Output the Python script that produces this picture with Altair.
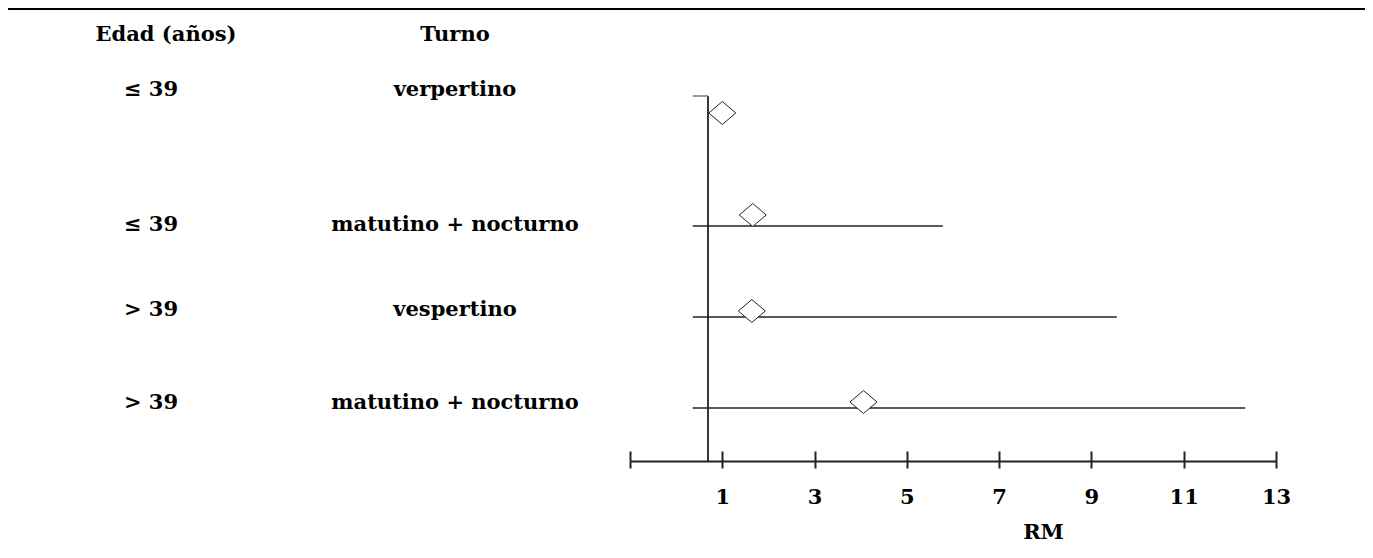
import altair as alt
import pandas as pd

# ---------------- data ----------------
edad = ["≤ 39", "≤ 39", "> 39", "> 39"]
turno = ["verpertino", "matutino + nocturno", "vespertino", "matutino + nocturno"]
fila = [1, 2, 3, 4]
rm = [1.0, 1.66, 1.64, 4.06]
ic_inf = [None, 0.36, 0.36, 0.36]
ic_sup = [None, 5.78, 9.55, 12.33]
referencia = 0.69
marcas_x = [-1, 1, 3, 5, 7, 9, 11, 13]
encabezados = ["Edad (años)", "Turno"]
titulo_x = "RM"

df = pd.DataFrame({"fila": fila, "edad": edad, "turno": turno, "rm": rm,
                   "lo": ic_inf, "hi": ic_sup})

# ---------------- style ----------------
FONT = "DejaVu Serif"
FS = 21
INK = "#222222"
DIAM_DY = {1: -22, 2: -11, 3: -6, 4: -6}   # diamond drawn just above its line
TEXT_DY = {1: -45, 2: -1, 3: -7, 4: -5}    # table text vertical nudges

xscale = alt.Scale(domain=[marcas_x[0], marcas_x[-1]], nice=False, zero=False)
yscale = alt.Scale(domain=[1, 4], range=[39, 312], nice=False, zero=False)

base = alt.Chart(df)
one = pd.DataFrame({"k": [0]})

# top border line
borde = alt.Chart(one).mark_rule(color="#000000", strokeWidth=2).encode(
    x=alt.value(-623), x2=alt.value(737), y=alt.value(-87))

# vertical reference line
ref = alt.Chart(one).mark_rule(color=INK, strokeWidth=1.8).encode(
    x=alt.XDatum(referencia, scale=xscale, axis=None))

# small cap at the top of the reference line
cap = alt.Chart(one).mark_rule(color="#777777", strokeWidth=1.5).encode(
    x=alt.XDatum(ic_inf[1], scale=xscale, axis=None),
    x2=alt.X2Datum(referencia),
    y=alt.value(0))

# confidence interval lines (carry the main x axis)
ic = base.transform_filter("isValid(datum.lo)").mark_rule(color=INK, strokeWidth=1.3).encode(
    x=alt.X("lo:Q", scale=xscale,
            axis=alt.Axis(values=marcas_x, orient="bottom", domain=True, domainColor=INK,
                          domainWidth=2, ticks=True, tickSize=7, tickWidth=2, tickColor=INK,
                          labelExpr="datum.value < 0 ? '' : datum.label",
                          labelFont=FONT, labelFontWeight="bold", labelFontSize=FS,
                          labelColor="#000000", labelBaseline="alphabetic", labelPadding=35,
                          labelFlush=False, labelOverlap=False,
                          grid=False, title=titulo_x, titleFont=FONT, titleFontWeight="bold",
                          titleFontSize=FS, titleColor="#000000", titleX=413, titleY=77,
                          titleAlign="center", titleBaseline="alphabetic")),
    x2="hi:Q",
    y=alt.Y("fila:Q", scale=yscale, axis=None))

layers = [borde, ref, cap, ic]

# diamonds, one layer per row (first one carries the upward tick marks)
for i, f in enumerate(fila):
    axis = None
    if i == 0:
        axis = alt.Axis(values=marcas_x, orient="top", offset=-365, domain=False,
                        ticks=True, tickSize=10, tickWidth=2, tickColor=INK,
                        labels=False, grid=False, title=None)
    d = base.transform_filter(alt.datum.fila == f).mark_point(
        shape="M -1 0 L 0 -0.85 L 1 0 L 0 0.85 Z", size=729, filled=True,
        fill="white", stroke=INK, strokeWidth=1, opacity=1, yOffset=DIAM_DY[f]).encode(
        x=alt.X("rm:Q", scale=xscale, axis=axis),
        y=alt.Y("fila:Q", scale=yscale, axis=None))
    layers.append(d)

# left table text, one layer per row
for f in fila:
    for field, xpos in (("edad", -479), ("turno", -175)):
        t = base.transform_filter(alt.datum.fila == f).mark_text(
            font=FONT, fontWeight="bold", fontSize=FS, color="#000000", align="center",
            baseline="middle", dy=TEXT_DY[f]).encode(
            x=alt.value(xpos), y=alt.Y("fila:Q", scale=yscale, axis=None),
            text=f"{field}:N")
        layers.append(t)

hdr1 = alt.Chart(pd.DataFrame({"t": [encabezados[0]]})).mark_text(
    font=FONT, fontWeight="bold", fontSize=FS, color="#000000", align="center",
    baseline="middle").encode(x=alt.value(-464), y=alt.value(-61), text="t:N")
hdr2 = alt.Chart(pd.DataFrame({"t": [encabezados[1]]})).mark_text(
    font=FONT, fontWeight="bold", fontSize=FS, color="#000000", align="center",
    baseline="middle").encode(x=alt.value(-175), y=alt.value(-61), text="t:N")
layers += [hdr1, hdr2]

chart = alt.layer(*layers).resolve_axis(
    x="independent"
).properties(
    width=646, height=365,
    padding={"left": 622, "top": 88, "right": 89, "bottom": 89},
    autosize=alt.AutoSizeParams(type="none"),
    background="white",
).configure_view(stroke=None)

chart.save("out.html", embed_options={"renderer": "svg", "actions": False})
